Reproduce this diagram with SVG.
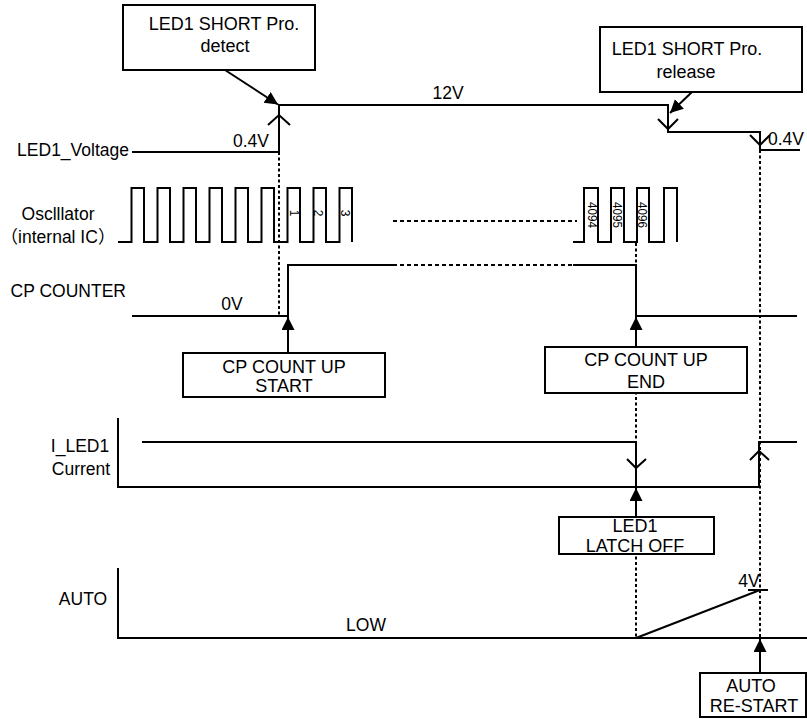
<svg xmlns="http://www.w3.org/2000/svg" width="807" height="719" viewBox="0 0 807 719">
<style>
.ln{fill:none;stroke:#000;stroke-width:2}
.dot{fill:none;stroke:#000;stroke-width:2;stroke-dasharray:3 2.5}
.dash{fill:none;stroke:#000;stroke-width:2;stroke-dasharray:4 3}
.box{fill:#fff;stroke:#000;stroke-width:2}
text{font-family:"Liberation Sans",Arial,"Noto Sans CJK JP",sans-serif;fill:#000}
.cjk{font-family:"Noto Sans CJK JP",sans-serif}
.bt{font-size:18px;text-anchor:middle}
.lb{font-size:17.5px}
.mid{text-anchor:middle}
.end{text-anchor:end}
.num{font-family:"Liberation Sans Narrow","Liberation Sans",sans-serif;font-size:12px;text-anchor:middle;dominant-baseline:central}
</style>
<defs>
<marker id="ah" markerUnits="userSpaceOnUse" markerWidth="14" markerHeight="14" refX="13" refY="6.5" orient="auto">
<path d="M0,0 L13,6.5 L0,13 z" fill="#000"/>
</marker>
</defs>
<rect width="807" height="719" fill="#fff"/>

<g id="guides">
<line class="dot" x1="279" y1="152" x2="279" y2="316"/>
<line class="dot" x1="636" y1="243" x2="636" y2="638"/>
<line class="dot" x1="760" y1="150" x2="760" y2="638"/>
</g>

<g id="signals">
<polyline class="ln" points="132,152 279,152 279,105 668,105 668,132 760,132 760,150 800,150"/>
<polyline class="ln" points="268,125 279,115 290,125"/>
<polyline class="ln" points="658,119 668,129 678,119"/>
<polyline class="ln" points="750,135 760,145 770,135"/>
<polyline class="ln" points="118,242 131.5,242 131.5,188 144,188 144,242 157.5,242 157.5,188 170,188 170,242 183.5,242 183.5,188 196,188 196,242 209.5,242 209.5,188 222,188 222,242 235.5,242 235.5,188 248,188 248,242 261.5,242 261.5,188 274,188 274,242 287.5,242 287.5,188 300,188 300,242 313.5,242 313.5,188 326,188 326,242 339.5,242 339.5,188 352,188 352,242"/>
<line class="dash" x1="393" y1="221" x2="577" y2="221"/>
<polyline class="ln" points="573,242 584,242 584,188 598,188 598,242 611,242 611,188 624,188 624,242 637,242 637,188 649,188 649,242 664,242 664,188 677,188 677,242"/>
<polyline class="ln" points="132,316 288,316 288,265 393,265"/>
<line class="dash" x1="393" y1="265" x2="573" y2="265"/>
<polyline class="ln" points="573,265 636,265 636,316 797,316"/>
<polyline class="ln" points="118,418 118,487 759,487 759,442 797,442"/>
<polyline class="ln" points="142,442 636,442 636,487"/>
<polyline class="ln" points="627,459 636,468 646,459"/>
<polyline class="ln" points="750,460 759,451 769,460"/>
<polyline class="ln" points="118,568 118,638 807,638"/>
<line class="ln" x1="636" y1="638" x2="760" y2="590"/>
<line class="ln" x1="748" y1="590" x2="768" y2="590"/>
</g>

<g id="labels">
<text class="lb end" x="129" y="156">LED1_Voltage</text>
<text class="lb mid" x="58" y="220">Osclllator</text>
<text class="lb mid" x="58" y="243"><tspan class="cjk">（</tspan>internal IC<tspan class="cjk">）</tspan></text>
<text class="lb end" x="126" y="297">CP COUNTER</text>
<text class="lb mid" x="80" y="452">I_LED1</text>
<text class="lb mid" x="81" y="475">Current</text>
<text class="lb mid" x="83" y="605">AUTO</text>
<text class="lb mid" x="251" y="147">0.4V</text>
<text class="lb mid" x="448" y="99">12V</text>
<text class="lb" x="768" y="145">0.4V</text>
<text class="lb mid" x="232" y="310">0V</text>
<text class="lb mid" x="366" y="631">LOW</text>
<text class="lb mid" x="749" y="587">4V</text>
<text class="num" transform="translate(293.5,213) rotate(90)">1</text>
<text class="num" transform="translate(318,213) rotate(90)">2</text>
<text class="num" transform="translate(345,213) rotate(90)">3</text>
<text class="num" transform="translate(592,215) rotate(90)" textLength="26" lengthAdjust="spacingAndGlyphs">4094</text>
<text class="num" transform="translate(617,215) rotate(90)" textLength="26" lengthAdjust="spacingAndGlyphs">4095</text>
<text class="num" transform="translate(642,215) rotate(90)" textLength="26" lengthAdjust="spacingAndGlyphs">4096</text>
</g>

<g id="connectors">
<line class="ln" x1="225" y1="70" x2="278" y2="104.5" marker-end="url(#ah)"/>
<line class="ln" x1="692" y1="92" x2="670" y2="113" marker-end="url(#ah)"/>
<line class="ln" x1="288" y1="353" x2="288" y2="317" marker-end="url(#ah)"/>
<line class="ln" x1="636" y1="347" x2="636" y2="317" marker-end="url(#ah)"/>
<line class="ln" x1="636" y1="517" x2="636" y2="488" marker-end="url(#ah)"/>
<line class="ln" x1="760" y1="673" x2="760" y2="639" marker-end="url(#ah)"/>
</g>

<g id="node-detect">
<rect class="box" x="123" y="5" width="192" height="65"/>
<text class="bt" x="224" y="30">LED1 SHORT Pro.</text>
<text class="bt" x="225" y="52">detect</text>
</g>
<g id="node-release">
<rect class="box" x="600" y="27" width="202" height="65"/>
<text class="bt" x="687" y="55">LED1 SHORT Pro.</text>
<text class="bt" x="686" y="78">release</text>
</g>
<g id="node-cp-start">
<rect class="box" x="183" y="353" width="202" height="44"/>
<text class="bt" x="284" y="373">CP COUNT UP</text>
<text class="bt" x="284" y="392">START</text>
</g>
<g id="node-cp-end">
<rect class="box" x="545" y="347" width="202" height="46"/>
<text class="bt" x="646" y="366">CP COUNT UP</text>
<text class="bt" x="646" y="388">END</text>
</g>
<g id="node-latch-off">
<rect class="box" x="559" y="517" width="155" height="37"/>
<text class="bt" x="635" y="532">LED1</text>
<text class="bt" x="635" y="552">LATCH OFF</text>
</g>
<g id="node-auto-restart">
<rect class="box" x="700" y="673" width="106" height="44"/>
<text class="bt" x="751" y="692">AUTO</text>
<text class="bt" x="754" y="712">RE-START</text>
</g>
</svg>
